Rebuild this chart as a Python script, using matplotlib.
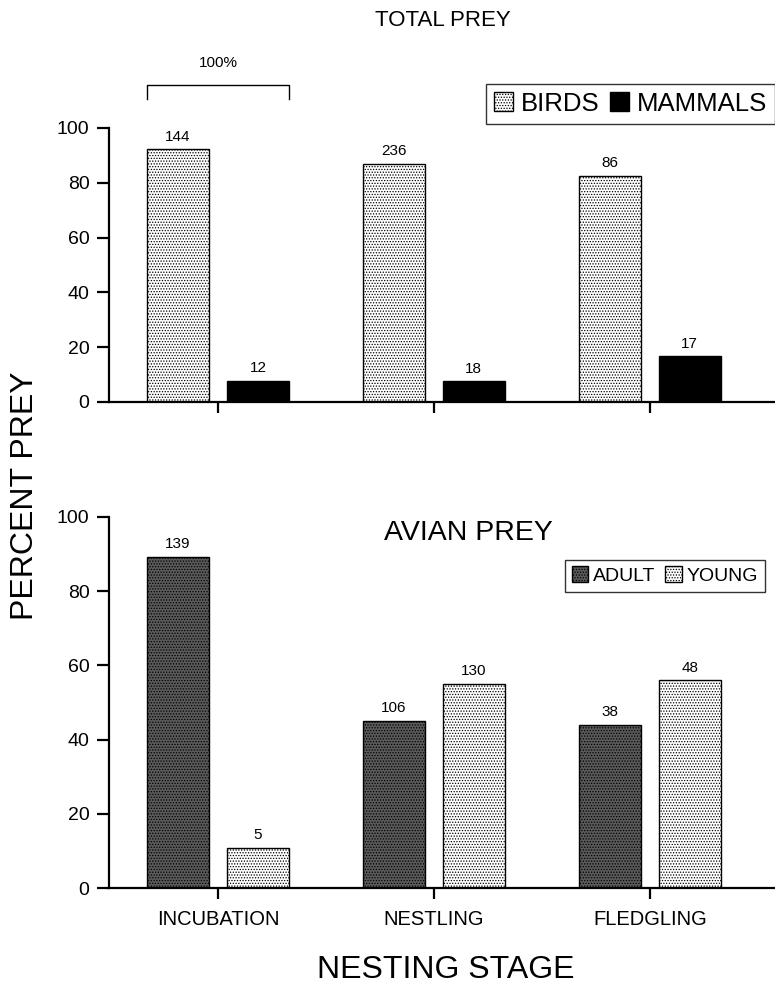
#!/usr/bin/env python3
"""Percent prey by nesting stage: total prey (birds vs mammals) and avian prey (adult vs young)."""
import matplotlib
matplotlib.use("Agg")
import matplotlib.pyplot as plt
import numpy as np

plt.rcParams["font.family"] = ["Liberation Sans", "DejaVu Sans"]
plt.rcParams["hatch.linewidth"] = 0.6

stages = ["INCUBATION", "NESTLING", "FLEDGLING"]

# top panel: total prey
birds_pct   = [92.3, 87.0, 82.5]
mammals_pct = [7.7, 7.5, 16.7]
birds_n     = [144, 236, 86]
mammals_n   = [12, 18, 17]

# bottom panel: avian prey
adult_pct = [89.2, 45.0, 44.0]
young_pct = [10.8, 55.0, 56.0]
adult_n   = [139, 106, 38]
young_n   = [5, 130, 48]

W, OFF = 0.287, 0.185
x = np.arange(len(stages))

fig = plt.figure(figsize=(7.75, 9.99), dpi=100)
ax1 = fig.add_axes([0.1406, 0.5976, 0.8594, 0.2743])
ax2 = fig.add_axes([0.1406, 0.1111, 0.8594, 0.3714])

light = dict(facecolor="white", edgecolor="black", hatch="......", linewidth=1.0)
dark  = dict(facecolor="#5a5a5a", edgecolor="black", hatch="......", linewidth=1.0)
solid = dict(facecolor="black", edgecolor="black", linewidth=1.0)

ax1.bar(x - OFF, birds_pct, W, label="BIRDS", **light)
ax1.bar(x + OFF, mammals_pct, W, label="MAMMALS", **solid)
for xi, v, n in zip(x - OFF, birds_pct, birds_n):
    ax1.text(xi, v + 2, str(n), ha="center", va="bottom", fontsize=11)
for xi, v, n in zip(x + OFF, mammals_pct, mammals_n):
    ax1.text(xi, v + 2, str(n), ha="center", va="bottom", fontsize=11)

ax2.bar(x - OFF, adult_pct, W, label="ADULT", **dark)
ax2.bar(x + OFF, young_pct, W, label="YOUNG", **light)
for xi, v, n in zip(x - OFF, adult_pct, adult_n):
    ax2.text(xi, v + 1.5, str(n), ha="center", va="bottom", fontsize=11)
for xi, v, n in zip(x + OFF, young_pct, young_n):
    ax2.text(xi, v + 1.5, str(n), ha="center", va="bottom", fontsize=11)

for ax in (ax1, ax2):
    ax.set_xlim(-0.505, 2.58)
    ax.set_ylim(0, 100)
    ax.set_yticks([0, 20, 40, 60, 80, 100])
    ax.set_xticks(x)
    for s in ("top", "right"):
        ax.spines[s].set_visible(False)
    ax.spines["left"].set_linewidth(1.6)
    ax.spines["bottom"].set_linewidth(1.6)
    ax.tick_params(axis="y", direction="out", length=9, width=1.6, labelsize=14, pad=5)
    ax.tick_params(axis="x", direction="out", length=8, width=1.6, labelsize=14.5, pad=8)

ax1.set_xticklabels([])
ax2.set_xticklabels(stages)

# bracket above incubation group
bx0, bx1 = x[0] - OFF - W / 2, x[0] + OFF + W / 2
ax1.plot([bx0, bx0, bx1, bx1], [110.5, 115.5, 115.5, 110.5], color="black",
         linewidth=1.0, clip_on=False)
ax1.text((bx0 + bx1) / 2, 121, "100%", ha="center", va="bottom", fontsize=11)

leg1 = ax1.legend(loc="upper right", bbox_to_anchor=(1.0, 1.16), ncol=2,
                  fontsize=18.5, frameon=True, fancybox=False, handlelength=0.75,
                  handleheight=0.75, handletextpad=0.3, columnspacing=0.4,
                  borderpad=0.3, borderaxespad=0)
leg1.get_frame().set_edgecolor("black")
leg1.get_frame().set_linewidth(1.0)

leg2 = ax2.legend(loc="upper right", bbox_to_anchor=(0.985, 0.885), ncol=2,
                  fontsize=14, frameon=True, fancybox=False, handlelength=0.85,
                  handleheight=0.85, handletextpad=0.25, columnspacing=0.5,
                  borderpad=0.35, borderaxespad=0)
leg2.get_frame().set_edgecolor("black")
leg2.get_frame().set_linewidth(1.0)

fig.text(0.572, 0.979, "TOTAL PREY", ha="center", va="center", fontsize=16)
ax2.text(0.539, 0.957, "AVIAN PREY", transform=ax2.transAxes, ha="center",
         va="center", fontsize=20.5)
fig.text(0.032, 0.504, "PERCENT PREY", rotation=90, ha="center", va="center", fontsize=23)
fig.text(0.575, 0.029, "NESTING STAGE", ha="center", va="center", fontsize=23)

fig.savefig("out.png", dpi=100)
